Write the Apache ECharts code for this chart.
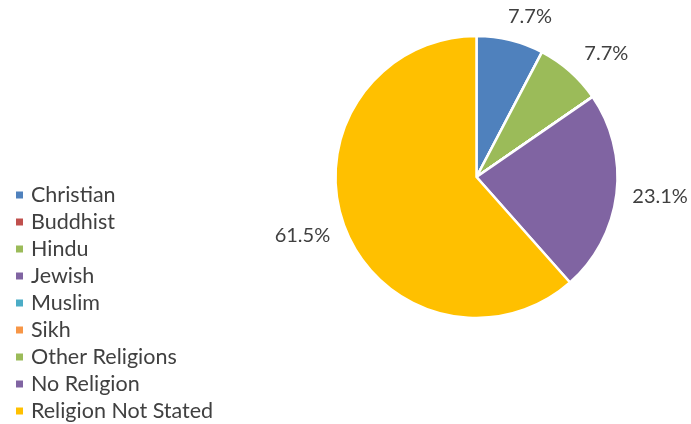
<!DOCTYPE html>
<html><head><meta charset="utf-8">
<script src="https://cdn.jsdelivr.net/npm/echarts@6/dist/echarts.min.js"></script>
<style>html,body{margin:0;padding:0;background:#fff}#c{width:691px;height:424px}</style>
</head><body><div id="c"></div>
<script>
var categories = ['Christian','Buddhist','Hindu','Jewish','Muslim','Sikh','Other Religions','No Religion','Religion Not Stated'];
var values = [1,0,1,0,0,0,0,3,8];
var colors = ['#4F81BD','#C0504D','#9BBB59','#8064A2','#4BACC6','#F79646','#9BBB59','#8064A2','#FFC000'];
var chart = echarts.init(document.getElementById('c'));
chart.setOption({
  animation:false,
  color: colors,
  legend:{orient:'vertical',left:9,top:179,height:260,itemWidth:9,itemHeight:9,itemGap:5,icon:'rect',
    textStyle:{fontFamily:'Lato',fontSize:21.5,color:'#404040',padding:[0,0,0,2]},
    data:categories},
  series:[{type:'pie',center:[476.5,177],radius:141,startAngle:90,clockwise:true,
    percentPrecision:1,
    itemStyle:{borderColor:'#fff',borderWidth:2.5},
    label:{position:'outside',fontFamily:'Lato',fontSize:20,color:'#404040',overflow:'none',
      distanceToLabelLine:-8,
      formatter:function(p){return p.value?p.percent.toFixed(1)+'%':'';}},
    labelLine:{show:false,length:24,length2:0},
    emphasis:{disabled:true},
    data:categories.map(function(c,i){return {name:c,value:values[i]};})
  }]
});
</script></body></html>
